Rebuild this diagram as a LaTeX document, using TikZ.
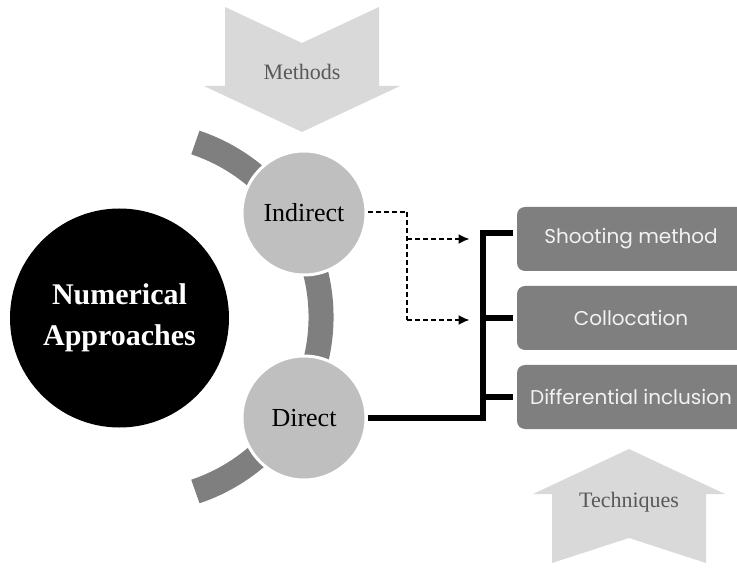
\documentclass[tikz,border=0pt]{standalone}
\usepackage{fontspec}
\setmainfont{Liberation Serif}
\newfontfamily\boxfont{Poppins}
\usetikzlibrary{arrows.meta}

\definecolor{arcgray}{HTML}{7F7F7F}
\definecolor{circgray}{HTML}{BFBFBF}
\definecolor{chevgray}{HTML}{D9D9D9}
\definecolor{labelgray}{HTML}{595959}
\definecolor{boxtext}{HTML}{F2F2F2}

\begin{document}
\begin{tikzpicture}[x = 0.5pt, y = -0.5pt,
	 approach/.style = {circle, fill = black, text = white, minimum size = 109.5pt, inner sep = 0pt, align = center, font = \fontsize{15}{20.5}\selectfont\bfseries},
	 kind/.style = {circle, fill = circgray, draw = white, line width = 1.5pt, minimum size = 62pt, inner sep = 0pt, font = \fontsize{13}{15}\selectfont},
	 technique/.style = {rectangle, rounded corners = 4pt, fill = arcgray, text = boxtext, minimum width = 114pt, minimum height = 32pt, inner sep = 0pt, font = \boxfont\fontsize{10}{12}\selectfont},
	 chevron/.style = {fill = chevgray},
	 chevlabel/.style = {text = labelgray, font = \fontsize{11}{13}\selectfont},
	 direct link/.style = {line width = 2.6pt},
	 indirect link/.style = {line width = 1pt, dash pattern = on 2.5pt off 1.5pt},
	 tip/.style = {-{Latex[length = 5.5pt, width = 5pt]}}]
	 \useasboundingbox (0, 0) rectangle (737, 576);
	 
	 % chevrons
	 \fill[chevron] (225, 7) -- (302, 43) -- (379, 7) -- (379, 86) -- (400, 86) -- (302, 132) -- (204, 86) -- (225, 86) -- cycle;
	 \node[chevlabel] (methods) at (302, 72) {Methods};
	 \fill[chevron] (629, 449) -- (725, 494) -- (706, 494) -- (706, 563) -- (629, 538) -- (552, 563) -- (552, 494) -- (533, 494) -- cycle;
	 \node[chevlabel] (techniques) at (629, 502) {Techniques};
	 
	 % arc behind the two circles
	 \draw[arcgray, line width = 12.5pt] (137, 317) ++(-71.5:184) arc[start angle = -71.5, end angle = 71.5, radius = 184];
	 
	 \node[approach] (numapp) at (119.5, 318) {Numerical\\Approaches};
	 \node[kind] (indirect) at (304, 213) {Indirect};
	 \node[kind] (direct) at (304, 418) {Direct};
	 
	 \node[technique] (shooting) at (631, 239) {Shooting method};
	 \node[technique] (colloc) at (631, 318) {Collocation};
	 \node[technique] (diffincl) at (631, 397) {Differential inclusion};
	 
	 % solid links from Direct
	 \coordinate (bus) at (483, 233);
	 \draw[direct link] (direct.east) -- (direct.east -| bus) -- (bus) -- ([shift = {(-2pt, 0)}] bus -| shooting.west);
	 \draw[direct link] (bus |- colloc.west) -- ([xshift = -2pt] colloc.west);
	 \draw[direct link] (bus |- diffincl.west) -- ([xshift = -2pt] diffincl.west);
	 
	 % dashed links from Indirect
	 \coordinate (split) at (407, 212);
	 \coordinate (tipA) at ([xshift = -23.5pt] shooting.west);
	 \coordinate (tipB) at ([shift = {(-23.5pt, -1pt)}] colloc.west);
	 \draw[indirect link] (indirect.east |- split) -- (split) -- (split |- tipB);
	 \draw[indirect link, tip] (split |- tipA) -- (tipA);
	 \draw[indirect link, tip] (split |- tipB) -- (tipB);
\end{tikzpicture}
\end{document}
